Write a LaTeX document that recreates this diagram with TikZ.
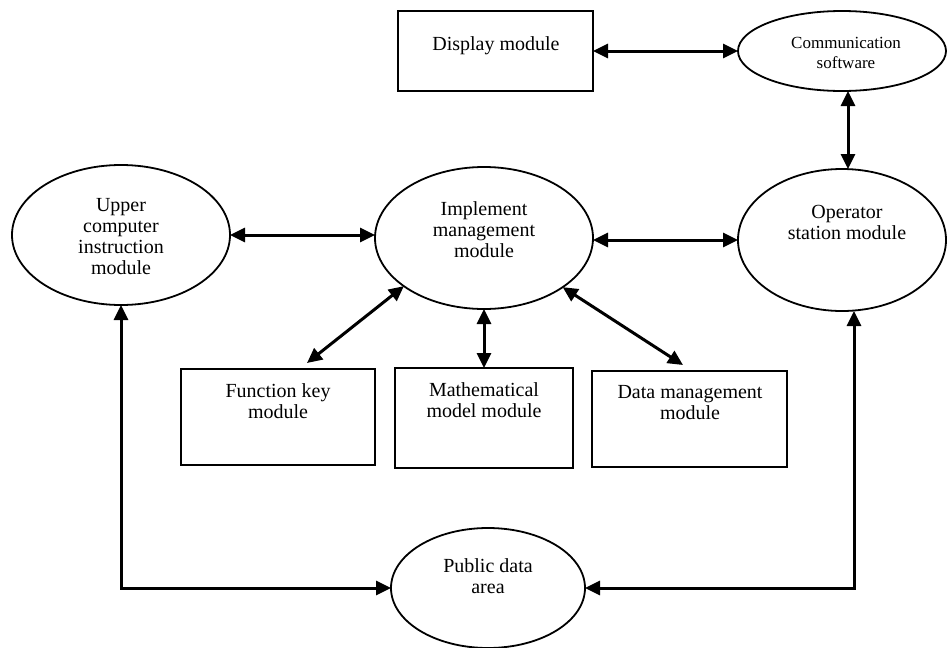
\documentclass[tikz,border=0pt]{standalone}
\usepackage{fontspec}
\setmainfont{Liberation Serif}
\usetikzlibrary{arrows.meta,shapes.geometric,calc}
\begin{document}
\begin{tikzpicture}[x=1pt,y=-1pt,
  shapeline/.style={draw=black,line width=1.8pt,inner sep=0pt,outer sep=0pt},
  boxnode/.style={shapeline,rectangle},
  ellnode/.style={shapeline,ellipse},
  txt/.style={align=center,inner sep=0pt,font=\fontsize{20}{21}\selectfont},
  smalltxt/.style={align=center,inner sep=0pt,font=\fontsize{17}{20}\selectfont},
  arr/.style={line width=3pt,{Triangle[length=15pt,width=14pt]}-{Triangle[length=15pt,width=14pt]}}
]
\useasboundingbox (0,0) rectangle (948,648);

% shapes
\node[boxnode,minimum width=195pt,minimum height=80pt] (disp) at (495.5,51) {};
\node[ellnode,minimum width=208pt,minimum height=80pt] (comm) at (842,51) {};
\node[ellnode,minimum width=218pt,minimum height=140pt] (upper) at (121,235) {};
\node[ellnode,minimum width=218pt,minimum height=142pt] (impl) at (484,238) {};
\node[ellnode,minimum width=208pt,minimum height=142pt] (oper) at (842,240) {};
\node[boxnode,minimum width=194pt,minimum height=96pt] (fk) at (278,417) {};
\node[boxnode,minimum width=178pt,minimum height=100pt] (mm) at (484,418) {};
\node[boxnode,minimum width=195pt,minimum height=96pt] (dm) at (689.5,419) {};
\node[ellnode,minimum width=194pt,minimum height=120pt] (pub) at (488,588) {};

% texts
\node[txt] (dispT) at (496,46) {Display module};
\node[smalltxt] (commT) at (846,53) {Communication\\software};
\node[txt] (upperT) at (121,237) {Upper\\computer\\instruction\\module};
\node[txt] (implT) at (484,230) {Implement\\management\\module};
\node[txt] (operT) at (847,222) {Operator\\station module};
\node[txt] (fkT) at (278,401) {Function key\\module};
\node[txt] (mmT) at (484,400) {Mathematical\\model module};
\node[txt] (dmT) at (690,403) {Data management\\module};
\node[txt] (pubT) at (488,576) {Public data\\area};

% connectors
\coordinate (rc) at (854,0);
\draw[arr] (disp.east) -- (comm.west);
\draw[arr] ([xshift=6pt]comm.south) -- ([xshift=6pt]oper.north);
\draw[arr] (upper.east) -- (upper.east -| impl.west);
\draw[arr] (oper.west -| impl.east) -- (oper.west);
\draw[arr] (impl.211) -- ([shift={(29,-6)}]fk.north);
\draw[arr] (impl.south) -- (mm.north);
\draw[arr] (impl.328) -- ([shift={(-6.5,-6)}]dm.north);
\draw[arr] (upper.south) |- (pub.west);
\draw[arr] (oper.south -| rc) |- (pub.east);
\end{tikzpicture}
\end{document}
